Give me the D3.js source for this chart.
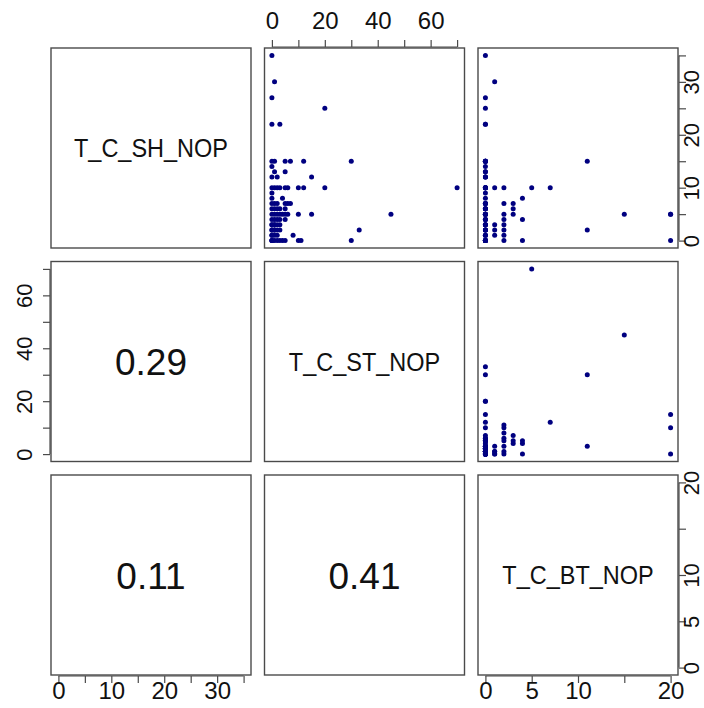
<!DOCTYPE html>
<html><head><meta charset="utf-8">
<script src="https://cdn.jsdelivr.net/npm/d3@7/dist/d3.min.js"></script>
<style>body{margin:0;background:#fff}svg{display:block}</style>
</head><body><svg id="c" width="704" height="708"></svg>
<script>
// ---- data ----
const varNames = ["T_C_SH_NOP", "T_C_ST_NOP", "T_C_BT_NOP"];
// one entry per observation
const sh = [5,5,0, 5, 15,2, 10, 10, 8,4,0, 7,6,5, 10,7,5,4,3,2,1,0, 30,10,3,2,1,
  35,27,25,22,22, 15,15,15,15,15, 14,13,13,12,12,12, 10,10,10,10,10,10,
  9,8,7,7,7,7, 6,6,6,6, 5,5,5,5,5, 4,4,4, 3,3,3,3, 2,2,2,2, 1,1,1, 0,0,0,0,0,0,0,0];
const st = [15,10,0, 45, 30,3, 12, 70, 4,5,0, 7,5,4, 10,6,5,3,1,0,8,11, 1,3,0,1,0,
  0,0,20,0,3, 0,1,5,7,12, 0,1,5,0,2,15, 0,1,2,5,6,20,
  0,0,0,1,2,5, 0,1,2,3, 0,1,2,3,6, 0,1,2, 0,1,2,3, 0,1,2,33, 0,1,2, 0,1,2,3,4,5,10,30];
const bt = [20,20,20, 15, 11,11, 7, 5, 4,4,4, 3,3,3, 2,2,2,2,2,2,2,2, 1,1,1,1,1,
  0,0,0,0,0, 0,0,0,0,0, 0,0,0,0,0,0, 0,0,0,0,0,0,
  0,0,0,0,0,0, 0,0,0,0, 0,0,0,0,0, 0,0,0, 0,0,0,0, 0,0,0,0, 0,0,0, 0,0,0,0,0,0,0,0];
// correlations shown in lower panels: (SH,ST), (SH,BT), (ST,BT)
const corrLabels = ["0.29", "0.11", "0.41"];
// axis ticks
const shTicks = [0,5,10,15,20,25,30,35];
const shTickLabels = [0,10,20,30];
const stTicks = [0,10,20,30,40,50,60,70];
const stTickLabels = [0,20,40,60];
const btTicks = [0,5,10,15,20];
const btTickLabels = [0,5,10,20];

// ---- layout ----
const P = 200;
const colX = [51, 264.5, 478];
const rowY = [48, 261.5, 475];
const FONT = "'Liberation Sans', Arial, Helvetica, sans-serif";
const lineCol = "#4a4a4a";
const ptCol = "#000080";

const svg = d3.select("#c");
const series = [sh, st, bt];
const ticks = [shTicks, stTicks, btTicks];
const tickLabs = [shTickLabels, stTickLabels, btTickLabels];

const xs = [], ys = [];
series.forEach((v, i) => {
  const [lo, hi] = d3.extent(v);
  const pad = (hi - lo) * 0.04;
  xs[i] = d3.scaleLinear().domain([lo - pad, hi + pad]).range([colX[i], colX[i] + P]);
  ys[i] = d3.scaleLinear().domain([lo - pad, hi + pad]).range([rowY[i] + P, rowY[i]]);
});

const lowerIdx = {"1,0": 0, "2,0": 1, "2,1": 2};

for (let r = 0; r < 3; r++) {
  for (let c = 0; c < 3; c++) {
    const g = svg.append("g");
    const x0 = colX[c], y0 = rowY[r];
    if (r === c) {
      g.append("text")
        .attr("transform", `translate(${x0 + P/2},${y0 + P/2 + 9}) scale(1,1.12)`)
        .attr("text-anchor", "middle")
        .attr("font-family", FONT).attr("font-size", 23.5)
        .attr("fill", "#111")
        .text(varNames[r]);
    } else if (r < c) {
      g.selectAll("circle").data(d3.range(sh.length)).join("circle")
        .attr("cx", k => xs[c](series[c][k]))
        .attr("cy", k => ys[r](series[r][k]))
        .attr("r", 2.5)
        .attr("fill", ptCol);
    } else {
      g.append("text")
        .attr("x", x0 + P/2).attr("y", y0 + P/2 + 13.5)
        .attr("text-anchor", "middle")
        .attr("font-family", FONT).attr("font-size", 37)
        .attr("fill", "#111")
        .text(corrLabels[lowerIdx[r + "," + c]]);
    }
    g.append("rect")
      .attr("x", x0).attr("y", y0).attr("width", P).attr("height", P)
      .attr("fill", "none").attr("stroke", lineCol).attr("stroke-width", 1.4);
  }
}

function styleAxis(ax, i, horizontal, side) {
  ax.select(".domain").remove();
  ax.attr("font-family", FONT).attr("font-size", horizontal ? 24 : 22);
  ax.selectAll(".tick line").attr("stroke", lineCol).attr("stroke-width", 1.2);
  ax.selectAll(".tick text").attr("fill", "#111");
  const t = ticks[i];
  const line = ax.insert("line", ":first-child").attr("stroke", lineCol).attr("stroke-width", 1.2);
  if (horizontal) {
    line.attr("x1", xs[i](t[0])).attr("x2", xs[i](t[t.length - 1])).attr("y1", 0).attr("y2", 0);
  } else {
    line.attr("y1", ys[i](t[0])).attr("y2", ys[i](t[t.length - 1])).attr("x1", 0).attr("x2", 0);
  }
  if (side === "left") {
    ax.selectAll(".tick text")
      .attr("x", null).attr("dy", null).attr("y", null)
      .attr("text-anchor", "middle")
      .attr("transform", "translate(-18,0) rotate(-90)");
  } else if (side === "right") {
    ax.selectAll(".tick text")
      .attr("x", null).attr("dy", null).attr("y", null)
      .attr("text-anchor", "middle")
      .attr("transform", "translate(20,0) rotate(-90)");
  }
}
const fmt = labs => d => labs.includes(d) ? String(d) : "";

// bottom axes: columns 0 and 2
[0, 2].forEach(i => {
  const ax = svg.append("g").attr("transform", `translate(0,${rowY[2] + P + 1})`)
    .call(d3.axisBottom(xs[i]).tickValues(ticks[i]).tickFormat(fmt(tickLabs[i])).tickSize(7).tickSizeOuter(0).tickPadding(-1));
  styleAxis(ax, i, true, "bottom");
});
// top axis: column 1
{
  const ax = svg.append("g").attr("transform", `translate(0,${rowY[0] - 1})`)
    .call(d3.axisTop(xs[1]).tickValues(ticks[1]).tickFormat(fmt(tickLabs[1])).tickSize(7).tickSizeOuter(0).tickPadding(11));
  styleAxis(ax, 1, true, "top");
}
// right axes: rows 0 and 2
[0, 2].forEach(i => {
  const ax = svg.append("g").attr("transform", `translate(${colX[2] + P + 1},0)`)
    .call(d3.axisRight(ys[i]).tickValues(ticks[i]).tickFormat(fmt(tickLabs[i])).tickSize(7).tickSizeOuter(0));
  styleAxis(ax, i, false, "right");
});
// left axis: row 1
{
  const ax = svg.append("g").attr("transform", `translate(${colX[0] - 1},0)`)
    .call(d3.axisLeft(ys[1]).tickValues(ticks[1]).tickFormat(fmt(tickLabs[1])).tickSize(7).tickSizeOuter(0));
  styleAxis(ax, 1, false, "left");
}
</script></body></html>
